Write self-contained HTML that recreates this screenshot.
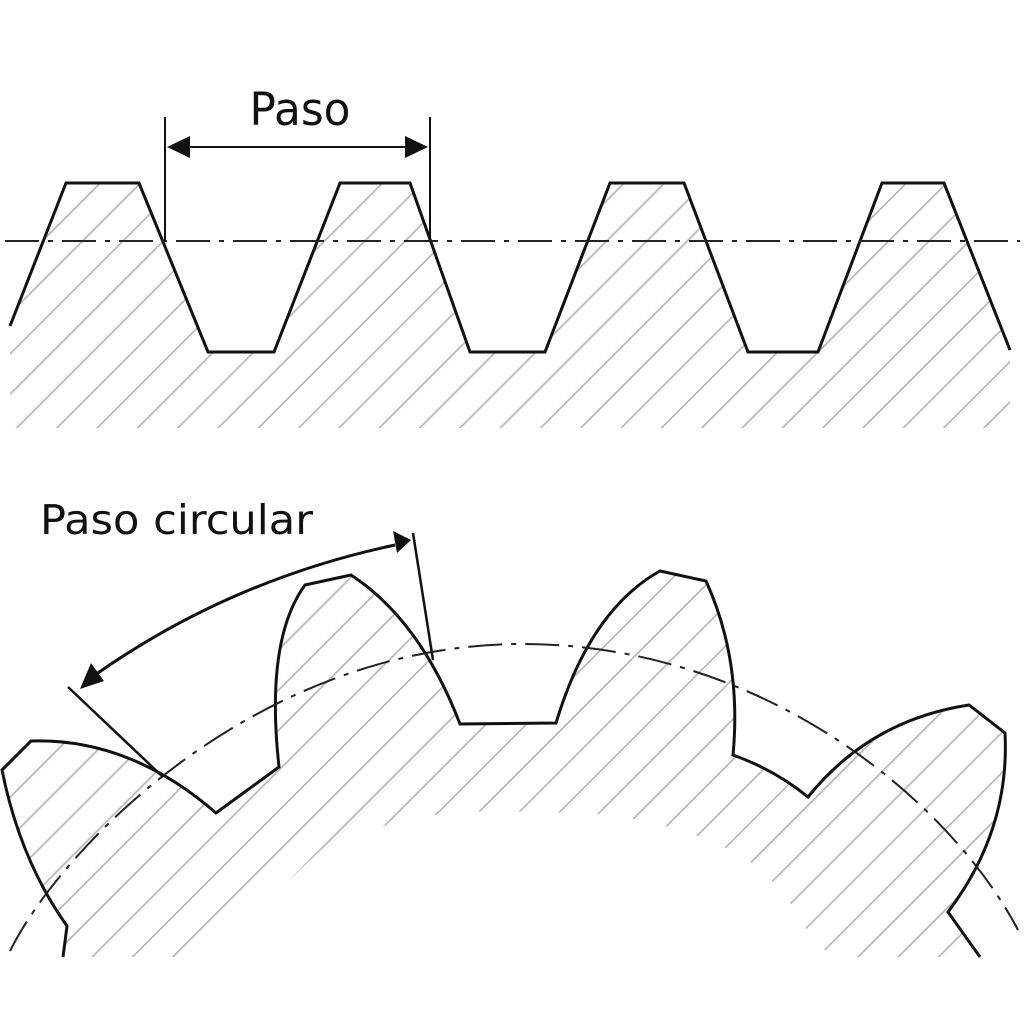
<!DOCTYPE html>
<html><head><meta charset="utf-8"><style>html,body{margin:0;padding:0;background:#fff;width:1024px;height:1024px;overflow:hidden}svg{display:block}</style></head>
<body>
<svg width="1024" height="1024" viewBox="0 0 1024 1024" xmlns="http://www.w3.org/2000/svg">
<defs>
<pattern id="h" patternUnits="userSpaceOnUse" width="28.5" height="28.5" patternTransform="rotate(45)">
<line x1="0" y1="0" x2="0" y2="28.5" stroke="#b8b8b8" stroke-width="3.5"/>
</pattern>
<clipPath id="rackclip"><path d="M10,326 L66,183 L139,183 L208,352 L274,352 L340,183 L410,183 L470,352 L545,352 L610,183 L684,183 L748,352 L818,352 L882,183 L944,183 L1010,350 L1010,428 L10,428 Z"/></clipPath>
<clipPath id="gearclip"><path d="M63,957 L67,926 Q20,860 2,770 L31,741 Q130,738 216,813 L279,767 Q265,640 305,585 L351,575 Q420,620 460,724 L556,723 Q590,610 660,571 L706,581 Q742,660 733,755 Q775,770 808,797 Q870,720 969,705 L1005,733 Q1010,830 948,912 L980,957 L832,957 L812,938 L795,910 L779,888 L759,869 L742,855 L712,842 L682,830 L649,822 L612,815 L575,813 L532,812 L490,811 L447,813 L393,823 L327,845 L205,957 Z"/></clipPath>
</defs>
<rect x="0" y="0" width="1024" height="1024" fill="url(#h)" clip-path="url(#rackclip)"/>
<rect x="0" y="0" width="1024" height="1024" fill="url(#h)" clip-path="url(#gearclip)"/>
<g fill="none" stroke="#111" stroke-width="3" stroke-linejoin="miter">
<polyline points="10,326 66,183 139,183 208,352 274,352 340,183 410,183 470,352 545,352 610,183 684,183 748,352 818,352 882,183 944,183 1010,350"/>
<path d="M63,957 L67,926 Q20,860 2,770 L31,741 Q130,738 216,813 L279,767 Q265,640 305,585 L351,575 Q420,620 460,724 L556,723 Q590,610 660,571 L706,581 Q742,660 733,755 Q775,770 808,797 Q870,720 969,705 L1005,733 Q1010,830 948,912 L980,957"/>
</g>
<line x1="5" y1="241" x2="1020" y2="241" stroke="#222" stroke-width="2" stroke-dasharray="34,9,5,9"/>
<path d="M10,951 C60,850 250,650 512,644 C760,640 950,800 1018,930" fill="none" stroke="#222" stroke-width="2" stroke-dasharray="34,9,5,9"/>
<g stroke="#111" stroke-width="2">
<line x1="165" y1="117" x2="165" y2="241"/>
<line x1="430" y1="117" x2="430" y2="241"/>
<line x1="185" y1="147" x2="410" y2="147"/>
<line x1="68" y1="687" x2="163" y2="777" stroke-width="2.5"/>
<line x1="413" y1="533" x2="433" y2="660" stroke-width="2.5"/>
</g>
<polygon points="167,147 190,136 190,158" fill="#111"/>
<polygon points="428,147 405,136 405,158" fill="#111"/>
<path d="M95,675 Q230,580 395,545" fill="none" stroke="#111" stroke-width="3"/>
<polygon points="80,689 91,663 104,681" fill="#111"/>
<polygon points="411,540 393,531 397,553" fill="#111"/>
<text x="300" y="125" font-family="'DejaVu Sans','Liberation Sans',sans-serif" font-size="45" text-anchor="middle" fill="#111" textLength="101" lengthAdjust="spacingAndGlyphs">Paso</text>
<text x="40" y="534" font-family="'DejaVu Sans','Liberation Sans',sans-serif" font-size="41" fill="#111" textLength="273" lengthAdjust="spacingAndGlyphs">Paso circular</text>
</svg>
</body></html>
